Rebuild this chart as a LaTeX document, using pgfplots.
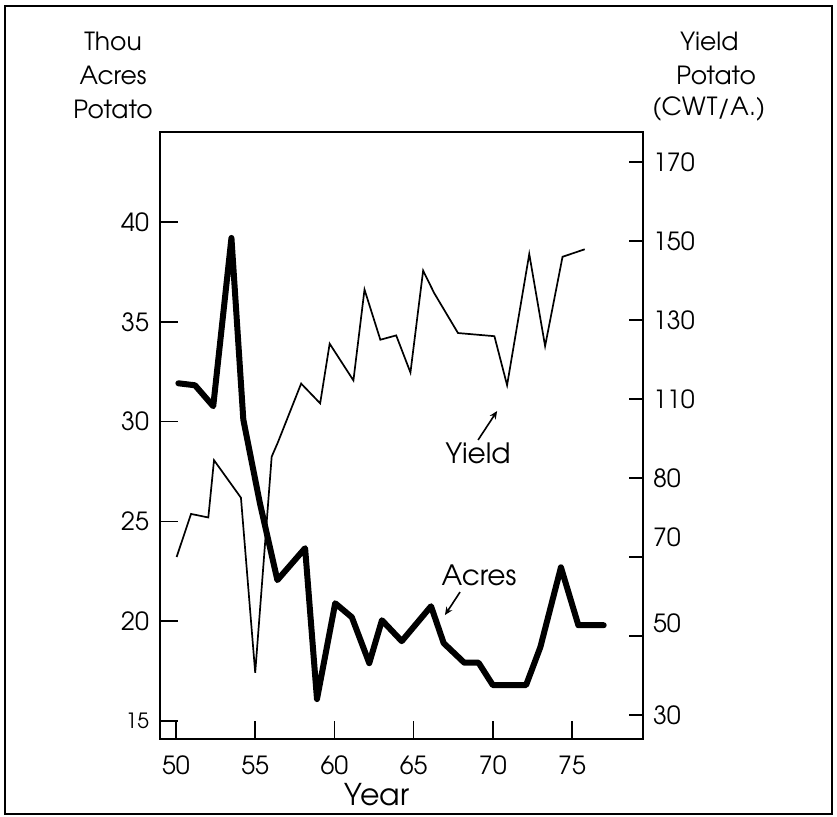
\documentclass[border=0pt]{standalone}
\usepackage{fontspec}
\setmainfont{TeX Gyre Adventor}
\usepackage{pgfplots}
\pgfplotsset{compat=1.18}
\usetikzlibrary{arrows.meta}
\begin{document}
\begin{tikzpicture}
\useasboundingbox (-80pt,-39pt) rectangle (338.5pt,369.5pt);
\draw[line width=0.8pt] (-77.5pt,-37.5pt) rectangle (336pt,366.5pt);
\begin{axis}[
  scale only axis, width=241.5pt, height=303.5pt,
  at={(0,0)}, anchor=south west,
  xmin=48.99, xmax=79.48, ymin=14.1, ymax=44.51,
  axis line style={line width=0.8pt},
  xtick={50,55,...,75}, ytick={15,20,...,40},
  yticklabels={{\fontsize{10.5}{12}\selectfont 15},20,25,30,35,40},
  xtick pos=bottom, ytick pos=left,
  tick align=inside,
  major tick length=9pt,
  tick style={line width=0.8pt, black},
  /pgf/number format/assume math mode=true,
  ticklabel style={font=\fontsize{12.5}{14}\selectfont},
  xticklabel style={yshift=-5pt},
  yticklabel style={xshift=-2pt},
  clip=false,
]
\addplot[line width=3pt, line join=round, line cap=round] coordinates {
(50.15,31.92) (51.2,31.82) (52.35,30.77) (53.5,39.2) (54.25,30.1) (55.3,25.9)
(56.4,22.06) (58.15,23.66) (58.9,16.1) (60.05,20.9) (61.1,20.2) (62.2,17.9)
(63.0,20.05) (64.25,19.0) (66.1,20.75) (66.9,18.9) (68.2,17.92) (69.1,17.92)
(70.0,16.8) (72.1,16.8) (73.0,18.7) (74.3,22.7) (75.4,19.8) (77.0,19.8)
};
\node[font=\fontsize{14}{16}\selectfont] at (axis cs:69.07,28.43) {Yield};
\draw[line width=0.8pt, -{Stealth[length=4pt,width=3.5pt]}] (axis cs:69.07,29.08) -- (axis cs:70.27,30.53);
\node[font=\fontsize{14}{16}\selectfont] at (axis cs:69.13,22.31) {Acres};
\draw[line width=0.8pt, -{Stealth[length=4pt,width=3.5pt]}] (axis cs:67.93,21.46) -- (axis cs:66.98,20.31);
\end{axis}
\begin{axis}[
  scale only axis, width=241.5pt, height=303.5pt,
  at={(0,0)}, anchor=south west,
  xmin=48.99, xmax=79.48, ymin=23.92, ymax=177.6,
  hide x axis, axis y line*=right,
  axis line style={line width=0.8pt, -},
  ytick={30,50,...,170},
  yticklabels={30,,,80,110,130,150,170},
  extra y ticks={53.3,75.1},
  extra y tick labels={50,70},
  extra y tick style={major tick length=0pt, tick style={draw=none}},
  tick align=inside,
  major tick length=7pt,
  tick style={line width=0.8pt, black},
  /pgf/number format/assume math mode=true,
  ticklabel style={font=\fontsize{12.5}{14}\selectfont},
  yticklabel style={xshift=1.5pt},
]
\addplot[line width=0.85pt, line join=miter] coordinates {
(50.04,70.0) (50.95,80.9) (52.04,80.0) (52.4,94.5) (54.1,85.0) (55.0,40.7)
(56.04,95.4) (56.43,99.0) (57.9,113.9) (59.1,108.9) (59.7,124.0) (61.2,114.7)
(61.9,137.7) (62.9,125.0) (63.9,126.1) (64.8,116.7) (65.6,142.5) (66.3,136.8)
(67.8,126.7) (70.1,125.9) (70.9,113.5) (72.3,146.7) (73.3,123.4) (74.4,146.0)
(75.8,147.9)
};
\end{axis}
\begin{scope}[every node/.style={font=\fontsize{12.5}{14}\selectfont, inner sep=0pt}]
\node at (-23.5pt,349pt) {Thou};
\node at (-23.5pt,332pt) {Acres};
\node at (-23.5pt,315pt) {Potato};
\node[anchor=west] at (260pt,349pt) {Yield};
\node[anchor=west] at (258pt,332pt) {Potato};
\node[anchor=west] at (246pt,315pt) {(CWT/A.)};
\node[font=\fontsize{15}{17}\selectfont] at (108.5pt,-28pt) {Year};
\end{scope}
\end{tikzpicture}
\end{document}
